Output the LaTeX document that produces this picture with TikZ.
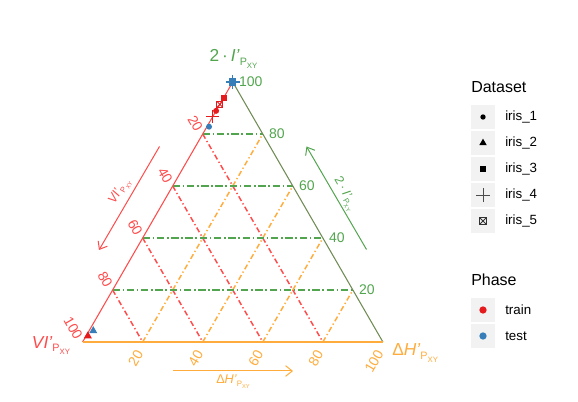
\documentclass[tikz,border=0pt]{standalone}
\usepackage{fontspec}
\setmainfont{Liberation Sans}
\usepackage{graphicx}
\usetikzlibrary{calc,shapes.geometric,shapes.misc,arrows.meta}

\definecolor{vired}{RGB}{255,75,75}
\definecolor{igreen}{RGB}{82,165,78}
\definecolor{iedge}{RGB}{112,140,84}
\definecolor{horange}{RGB}{255,172,60}
\definecolor{trainred}{RGB}{228,26,28}
\definecolor{testblue}{RGB}{55,126,184}
\definecolor{keygray}{RGB}{242,242,242}

\newcommand\pxy{\raisebox{-0.4ex}{\scalebox{0.62}{P}\raisebox{-0.35ex}{\scalebox{0.45}{XY}}}}

\begin{document}
\begin{tikzpicture}[x=0.75pt, y=-0.75pt,
  gridI/.style={draw=igreen, line width=1.3pt, dash pattern=on 5.5pt off 2pt on 1.2pt off 2pt},
  gridVI/.style={draw=vired, line width=1.1pt, dash pattern=on 4pt off 2pt on 1pt off 2pt},
  gridH/.style={draw=horange, line width=1.1pt, dash pattern=on 4pt off 2pt on 1pt off 2pt},
  tickI/.style={igreen, anchor=west, inner sep=0pt, font=\fontsize{10.5}{12}\selectfont},
  tickVI/.style={vired, anchor=east, rotate=-60, inner sep=0pt, font=\fontsize{10.5}{12}\selectfont},
  tickH/.style={horange, anchor=east, rotate=60, inner sep=0pt, font=\fontsize{10.5}{12}\selectfont},
  cornerlab/.style={inner sep=0pt, font=\fontsize{13}{15}\selectfont},
  axarrow/.style={line width=0.75pt, -{Straight Barb[length=5pt,width=8pt]}},
  axlab/.style={inner sep=0pt, font=\fontsize{9.5}{11}\selectfont},
  keybox/.style={fill=keygray, minimum width=17.6pt, minimum height=18.2pt, inner sep=0pt},
  keylab/.style={anchor=west, inner sep=0pt, font=\fontsize{10}{12}\selectfont},
  legtitle/.style={anchor=west, inner sep=0pt, font=\fontsize{12}{14}\selectfont},
  dot/.style={circle, fill, inner sep=0pt, minimum size=4.5pt},
  tri/.style={regular polygon, regular polygon sides=3, fill, inner sep=0pt, minimum size=7pt},
  sqr/.style={rectangle, fill, inner sep=0pt, minimum size=4.5pt},
  crs/.style={cross out, draw, rotate=45, inner sep=0pt, minimum size=6pt, line width=0.7pt},
  boxx/.style={rectangle, draw, inner sep=0pt, minimum size=4.5pt, line width=0.6pt,
    path picture={\draw (path picture bounding box.north west) -- (path picture bounding box.south east)
      (path picture bounding box.north east) -- (path picture bounding box.south west);}}]
  \useasboundingbox (0,0) rectangle (578,402);
  \coordinate (T) at (232.75,82);
  \coordinate (L) at (82.6,342);
  \coordinate (R) at (382.9,342);

  \foreach \wk/\wr in {0.2/0.8,0.4/0.6,0.6/0.4,0.8/0.2} {
    \draw[gridH] (barycentric cs:L=\wr,R=\wk) -- (barycentric cs:T=\wr,R=\wk);
    \draw[gridVI] (barycentric cs:T=\wr,L=\wk) -- (barycentric cs:L=\wk,R=\wr);
  }
  \foreach \wk/\wr in {0.2/0.8,0.4/0.6,0.6/0.4,0.8/0.2}
    \draw[gridI] (barycentric cs:T=\wk,L=\wr) -- (barycentric cs:T=\wk,R=\wr);
  \draw[vired, line width=0.8pt] (T) -- (L);
  \draw[iedge, line width=0.8pt] (T) -- (R);
  \draw[horange, line width=0.8pt] (L) -- (R);

  \foreach \k/\wk/\wr in {20/0.2/0.8,40/0.4/0.6,60/0.6/0.4,80/0.8/0.2,100/1/0} {
    \node[tickI] (i\k) at ($(barycentric cs:T=\wk,R=\wr)+(6,0)$) {\k};
    \node[tickVI] (v\k) at ($(barycentric cs:T=\wr,L=\wk)+(-3.5,-3.5)$) {\k};
    \node[tickH] (h\k) at ($(barycentric cs:L=\wr,R=\wk)+(-3,9)$) {\k};
  }

  \node[cornerlab, igreen] (labI) at (233.5,59) {2\,·\,\textit{I'}\pxy};
  \node[cornerlab, vired] (labVI) at (51,345.5) {\textit{VI'}\pxy};
  \node[cornerlab, horange, anchor=west] (labH) at (392,353) {Δ\textit{H'}\pxy};

  \coordinate (vis) at (159.5,146.5);
  \coordinate (vie) at (99,250);
  \coordinate (is) at (366.5,249.5);
  \coordinate (ie) at (306.5,146.5);
  \coordinate (hs) at (173,371);
  \coordinate (he) at (293,371);
  \draw[axarrow, vired] (vis) -- (vie);
  \draw[axarrow, igreen] (is) -- (ie);
  \draw[axarrow, horange] (hs) -- (he);
  \node[axlab, vired, rotate=60] (arVI) at (120,192) {\textit{VI'}\pxy};
  \node[axlab, igreen, rotate=-60] (arI) at (344.5,194) {2\,·\,\textit{I'}\pxy};
  \node[axlab, horange] (arH) at (233,381.5) {Δ\textit{H'}\pxy};

  \node[sqr, testblue, minimum size=5.5pt] (te3) at (T) {};
  \node[crs, testblue, minimum size=6.5pt, line width=0.9pt] (te4) at (T) {};
  \node[sqr, trainred] (tr3) at (barycentric cs:T=0.939,L=0.061) {};
  \node[boxx, trainred] (tr5) at (barycentric cs:T=0.914,L=0.086) {};
  \node[dot, trainred] (tr1) at (barycentric cs:T=0.889,L=0.111) {};
  \node[crs, trainred] (tr4) at (barycentric cs:T=0.867,L=0.133) {};
  \node[dot, testblue] (te1) at (barycentric cs:T=0.828,L=0.165,R=0.007) {};
  \node[tri, trainred] (tr2) at (barycentric cs:T=0.023,L=0.971,R=0.006) {};
  \node[tri, testblue] (te2) at (barycentric cs:T=0.043,L=0.943,R=0.014) {};

  \node[legtitle] (dset) at (471,87) {Dataset};
  \foreach \n/\y in {1/117,2/143,3/169,4/195,5/221} {
    \node[keybox] (k\n) at (483,\y) {};
    \node[keylab] (kl\n) at (505,\y) {iris\_\n};
  }
  \node[dot, black, minimum size=4pt] (m1) at (k1) {};
  \node[tri, black, minimum size=6.5pt] (m2) at (k2) {};
  \node[sqr, black, minimum size=4pt] (m3) at (k3) {};
  \node[crs, black!70, minimum size=6.5pt, line width=0.5pt] (m4) at (k4) {};
  \node[boxx, black!80, minimum size=5pt] (m5) at (k5) {};

  \node[legtitle] (phase) at (471,280) {Phase};
  \node[keybox] (p1) at (483,310) {};
  \node[keylab] (pl1) at (505,310) {train};
  \node[keybox] (p2) at (483,336) {};
  \node[keylab] (pl2) at (505,336) {test};
  \node[dot, trainred, minimum size=5.5pt] (pm1) at (p1) {};
  \node[dot, testblue, minimum size=5.5pt] (pm2) at (p2) {};
\end{tikzpicture}
\end{document}
